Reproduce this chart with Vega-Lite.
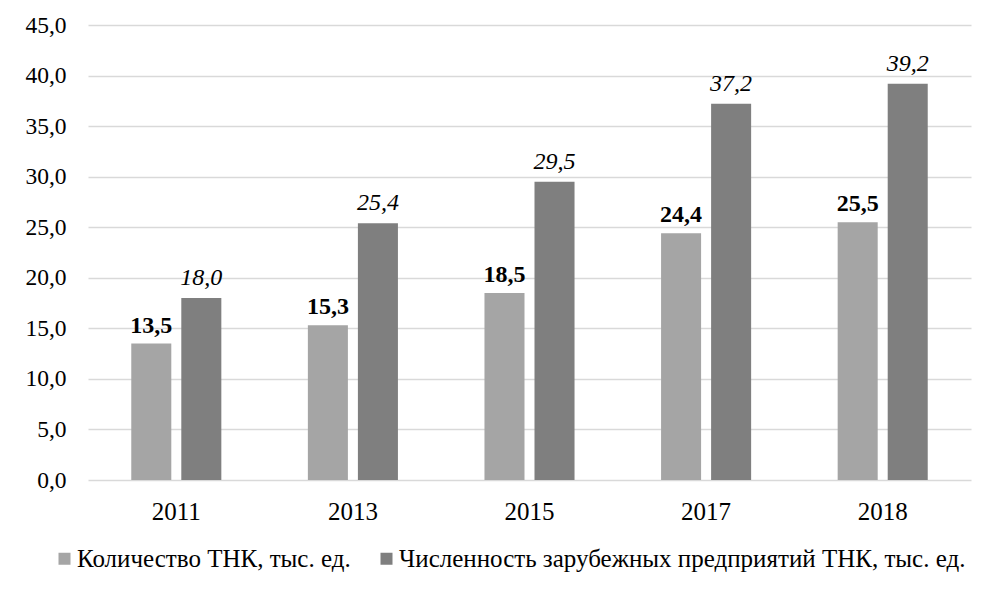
{
  "$schema": "https://vega.github.io/schema/vega-lite/v6.json",
  "autosize": "none",
  "width": 883,
  "height": 455,
  "padding": {"left": 88, "top": 25, "right": 16, "bottom": 117},
  "background": "white",
  "config": {
    "locale": {"number": {"decimal": ",", "thousands": " ", "grouping": [3], "currency": ["", ""]}},
    "view": {"stroke": null},
    "font": "'Liberation Serif', 'Times New Roman', serif"
  },
  "data": {
    "values": [
      {"year": "2011", "series": "Количество ТНК, тыс. ед.", "val": 13.5},
      {"year": "2011", "series": "Численность зарубежных предприятий ТНК, тыс. ед.", "val": 18.0},
      {"year": "2013", "series": "Количество ТНК, тыс. ед.", "val": 15.3},
      {"year": "2013", "series": "Численность зарубежных предприятий ТНК, тыс. ед.", "val": 25.4},
      {"year": "2015", "series": "Количество ТНК, тыс. ед.", "val": 18.5},
      {"year": "2015", "series": "Численность зарубежных предприятий ТНК, тыс. ед.", "val": 29.5},
      {"year": "2017", "series": "Количество ТНК, тыс. ед.", "val": 24.4},
      {"year": "2017", "series": "Численность зарубежных предприятий ТНК, тыс. ед.", "val": 37.2},
      {"year": "2018", "series": "Количество ТНК, тыс. ед.", "val": 25.5},
      {"year": "2018", "series": "Численность зарубежных предприятий ТНК, тыс. ед.", "val": 39.2}
    ]
  },
  "encoding": {
    "x": {
      "field": "year", "type": "nominal",
      "scale": {"paddingInner": 0.49, "paddingOuter": 0.245},
      "axis": {"title": null, "labelAngle": 0, "domain": false, "ticks": false, "labelPadding": 19, "labelFontSize": 25, "labelColor": "#000000", "labelFont": "'Liberation Serif', 'Times New Roman', serif"}
    },
    "xOffset": {
      "field": "series", "type": "nominal",
      "sort": ["Количество ТНК, тыс. ед.", "Численность зарубежных предприятий ТНК, тыс. ед."],
      "scale": {"paddingInner": 0.2, "paddingOuter": 0}
    },
    "y": {
      "field": "val", "type": "quantitative",
      "scale": {"domain": [0, 45], "nice": false},
      "axis": {"title": null, "values": [0, 5, 10, 15, 20, 25, 30, 35, 40, 45], "format": ".1f", "domain": false, "ticks": false, "labelPadding": 22, "labelFontSize": 23.5, "labelColor": "#000000", "labelFont": "'Liberation Serif', 'Times New Roman', serif", "gridColor": "#d9d9d9", "gridWidth": 1.5}
    }
  },
  "layer": [
    {
      "mark": {"type": "bar"},
      "encoding": {
        "color": {
          "field": "series", "type": "nominal",
          "scale": {"domain": ["Количество ТНК, тыс. ед.", "Численность зарубежных предприятий ТНК, тыс. ед."], "range": ["#a5a5a5", "#7f7f7f"]},
          "legend": {"title": null, "orient": "none", "legendX": -36, "legendY": 521, "padding": 0, "direction": "horizontal", "symbolType": "square", "symbolSize": 144, "symbolStrokeWidth": 0, "symbolOffset": 0, "labelFontSize": 25, "labelColor": "#000000", "labelFont": "'Liberation Serif', 'Times New Roman', serif", "labelOffset": 0, "columnPadding": 23, "labelLimit": 800}
        }
      }
    },
    {
      "transform": [{"filter": "datum.series === 'Количество ТНК, тыс. ед.'"}],
      "mark": {"type": "text", "baseline": "alphabetic", "dy": -11, "fontWeight": "bold", "fontSize": 24, "font": "'Liberation Serif', 'Times New Roman', serif", "color": "#000000"},
      "encoding": {"text": {"field": "val", "type": "quantitative", "format": ".1f"}}
    },
    {
      "transform": [{"filter": "datum.series !== 'Количество ТНК, тыс. ед.'"}],
      "mark": {"type": "text", "baseline": "alphabetic", "dy": -13, "fontStyle": "italic", "fontSize": 24, "font": "'Liberation Serif', 'Times New Roman', serif", "color": "#000000"},
      "encoding": {"text": {"field": "val", "type": "quantitative", "format": ".1f"}}
    }
  ]
}
